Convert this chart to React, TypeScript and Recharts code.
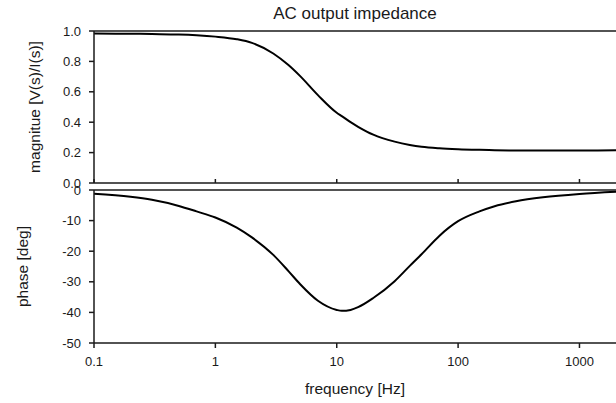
import { LineChart, Line, XAxis, YAxis, ReferenceLine } from 'recharts'

// frequency [Hz] sample points
const frequencies = [
  0.1, 0.2, 0.3, 0.5, 0.7, 1, 1.5, 2, 3, 4, 5, 7, 10, 11, 13, 15, 20, 30, 40,
  50, 70, 100, 150, 200, 300, 500, 1000, 2000,
]
const magnitude = [
  0.983, 0.982, 0.98, 0.977, 0.972, 0.963, 0.946, 0.922, 0.852, 0.776, 0.703,
  0.578, 0.462, 0.44, 0.4, 0.37, 0.318, 0.272, 0.25, 0.238, 0.228, 0.222,
  0.218, 0.216, 0.214, 0.213, 0.214, 0.215,
]
const phase = [
  -1.2, -2.2, -3.2, -5.2, -7.0, -9.0, -12.3, -15.5, -21.2, -26.5, -30.8, -36.2,
  -39.2, -39.5, -39.2, -38.3, -35.3, -29.8, -24.8, -21, -15, -10.2, -7, -5.3,
  -3.7, -2.4, -1.3, -0.6,
]

const freqTicks = [0.1, 1, 10, 100, 1000]
const magTicks = [0, 0.2, 0.4, 0.6, 0.8, 1]
const phaseTicks = [-50, -40, -30, -20, -10, 0]

const data = frequencies.map((f, i) => ({ f, mag: magnitude[i], phase: phase[i] }))

const FONT = 'Arial, "Liberation Sans", sans-serif'
const INK = '#1a1a1a'
const tickStyle = { fontSize: 13, fill: INK, fontFamily: FONT }

function VerticalTitle(props: any) {
  const { viewBox, text, cx } = props
  const cy = viewBox.y + viewBox.height / 2
  return (
    <text
      x={cx}
      y={cy}
      transform={`rotate(-90 ${cx} ${cy})`}
      textAnchor="middle"
      dominantBaseline="central"
      fontSize={15.5}
      fontFamily={FONT}
      fill={INK}
    >
      {text}
    </text>
  )
}

function BottomTitle(props: any) {
  const { viewBox, text } = props
  return (
    <text
      x={viewBox.x + viewBox.width / 2}
      y={viewBox.y + 45}
      textAnchor="middle"
      dominantBaseline="central"
      fontSize={15.5}
      fontFamily={FONT}
      fill={INK}
    >
      {text}
    </text>
  )
}

export default function App() {
  return (
    <div
      style={{
        position: 'absolute',
        left: 0,
        top: 0,
        width: 616,
        height: 403,
        background: '#fff',
        fontFamily: FONT,
        overflow: 'hidden',
      }}
    >
      <div
        style={{
          position: 'absolute',
          left: 205,
          top: 4,
          width: 300,
          textAlign: 'center',
          fontSize: 17,
          lineHeight: '20px',
          color: INK,
        }}
      >
        AC output impedance
      </div>

      <div style={{ position: 'absolute', left: 0, top: 0 }}>
        <LineChart
          width={616}
          height={190}
          data={data}
          margin={{ top: 31, right: 0, bottom: 0, left: 0 }}
        >
          <XAxis
            dataKey="f"
            type="number"
            scale="log"
            domain={[0.1, 2000]}
            ticks={freqTicks}
            allowDataOverflow
            interval={0}
            height={7}
            tickSize={-4}
            tick={tickStyle}
            tickFormatter={() => ''}
            stroke={INK}
            strokeWidth={1.5}
          />
          <YAxis
            type="number"
            domain={[0, 1]}
            ticks={magTicks}
            interval={0}
            width={94}
            tickSize={5}
            tickMargin={8}
            tick={tickStyle}
            tickFormatter={(v: number) => v.toFixed(1)}
            stroke={INK}
            strokeWidth={1.5}
            label={<VerticalTitle text="magnitue [V(s)/I(s)]" cx={34} />}
          />
          <ReferenceLine y={1} stroke={INK} strokeWidth={1.5} />
          <Line
            type="monotone"
            dataKey="mag"
            stroke="#000"
            strokeWidth={2}
            dot={false}
            isAnimationActive={false}
          />
        </LineChart>
      </div>

      <div style={{ position: 'absolute', left: 0, top: 180 }}>
        <LineChart
          width={616}
          height={223}
          data={data}
          margin={{ top: 10, right: 0, bottom: 0, left: 0 }}
        >
          <XAxis
            dataKey="f"
            type="number"
            scale="log"
            domain={[0.1, 2000]}
            ticks={freqTicks}
            allowDataOverflow
            interval={0}
            height={60}
            tickSize={5}
            tickMargin={9}
            tick={tickStyle}
            tickFormatter={(v: number) => String(v)}
            stroke={INK}
            strokeWidth={1.5}
            label={<BottomTitle text="frequency [Hz]" />}
          />
          <YAxis
            type="number"
            domain={[-50, 0]}
            ticks={phaseTicks}
            interval={0}
            width={94}
            tickSize={5}
            tickMargin={8}
            tick={tickStyle}
            stroke={INK}
            strokeWidth={1.5}
            label={<VerticalTitle text="phase [deg]" cx={22} />}
          />
          <ReferenceLine y={0} stroke={INK} strokeWidth={1.5} />
          <Line
            type="monotone"
            dataKey="phase"
            stroke="#000"
            strokeWidth={2}
            dot={false}
            isAnimationActive={false}
          />
        </LineChart>
      </div>
    </div>
  )
}
